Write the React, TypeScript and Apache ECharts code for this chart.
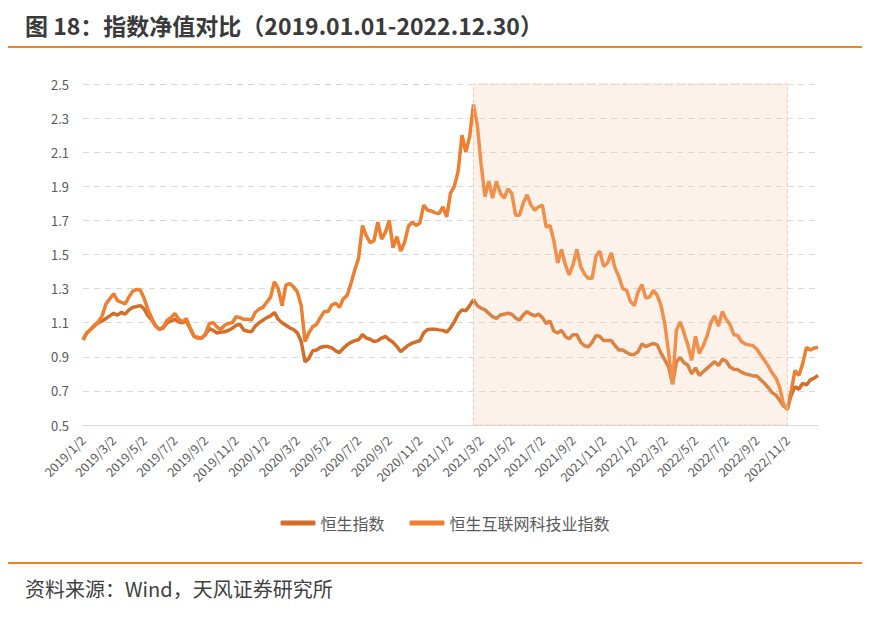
import React, { useEffect, useRef } from "react";
import * as echarts from "echarts";

// Categories: weekly samples (day 2, 9, 16, 23 of each month) + final date
const years = [2019, 2020, 2021, 2022];
const sampleDays = [2, 9, 16, 23];
const categories: string[] = [];
years.forEach((y) => {
  for (let m = 1; m <= 12; m++) {
    sampleDays.forEach((d) => categories.push(`${y}/${m}/${d}`));
  }
});
categories.push("2022/12/30");

const xTickLabels = [
  "2019/1/2", "2019/3/2", "2019/5/2", "2019/7/2", "2019/9/2", "2019/11/2",
  "2020/1/2", "2020/3/2", "2020/5/2", "2020/7/2", "2020/9/2", "2020/11/2",
  "2021/1/2", "2021/3/2", "2021/5/2", "2021/7/2", "2021/9/2", "2021/11/2",
  "2022/1/2", "2022/3/2", "2022/5/2", "2022/7/2", "2022/9/2", "2022/11/2",
];

const yTicks = [0.5, 0.7, 0.9, 1.1, 1.3, 1.5, 1.7, 1.9, 2.1, 2.3, 2.5];

const seriesNames = ["恒生指数", "恒生互联网科技业指数"];

const hsiValues = [
  1.00, 1.04, 1.06, 1.085, 1.10, 1.11, 1.125, 1.14, 1.155, 1.145,
  1.16, 1.15, 1.175, 1.19, 1.195, 1.20, 1.18, 1.14, 1.115, 1.08,
  1.06, 1.07, 1.10, 1.11, 1.12, 1.105, 1.10, 1.11, 1.065, 1.02,
  1.01, 1.01, 1.03, 1.065, 1.055, 1.04, 1.045, 1.047, 1.055, 1.067,
  1.085, 1.09, 1.057, 1.05, 1.047, 1.08, 1.10, 1.115, 1.13, 1.14,
  1.16, 1.12, 1.10, 1.085, 1.07, 1.06, 1.04, 0.99, 0.87, 0.89,
  0.935, 0.94, 0.955, 0.96, 0.96, 0.952, 0.935, 0.925, 0.95, 0.97,
  0.985, 0.995, 1.0, 1.03, 1.01, 1.003, 0.99, 0.995, 1.01, 1.02,
  1.0, 0.985, 0.96, 0.93, 0.95, 0.968, 0.98, 0.988, 0.994, 1.04,
  1.06, 1.062, 1.062, 1.058, 1.055, 1.045, 1.07, 1.105, 1.15, 1.175,
  1.17, 1.20, 1.235, 1.20, 1.185, 1.175, 1.155, 1.135, 1.125, 1.145,
  1.15, 1.155, 1.15, 1.128, 1.115, 1.145, 1.165, 1.15, 1.14, 1.15,
  1.13, 1.095, 1.11, 1.05, 1.04, 1.055, 1.02, 1.005, 1.03, 1.03,
  0.985, 0.965, 0.958, 0.985, 1.025, 1.02, 0.995, 0.995, 0.995, 0.965,
  0.94, 0.94, 0.925, 0.914, 0.914, 0.93, 0.975, 0.96, 0.97, 0.978,
  0.97, 0.92, 0.88, 0.84, 0.74, 0.87, 0.896, 0.865, 0.85, 0.80,
  0.835, 0.79, 0.812, 0.832, 0.852, 0.872, 0.848, 0.885, 0.875, 0.84,
  0.827, 0.825, 0.81, 0.80, 0.795, 0.788, 0.788, 0.765, 0.745, 0.72,
  0.69, 0.675, 0.645, 0.61, 0.60, 0.675, 0.725, 0.71, 0.745, 0.735,
  0.765, 0.775, 0.79,
];

const techValues = [
  1.00, 1.04, 1.06, 1.08, 1.106, 1.14, 1.21, 1.24, 1.27, 1.23,
  1.22, 1.21, 1.25, 1.285, 1.295, 1.29, 1.24, 1.175, 1.125, 1.08,
  1.06, 1.075, 1.115, 1.13, 1.155, 1.12, 1.105, 1.125, 1.07, 1.02,
  1.015, 1.008, 1.035, 1.095, 1.10, 1.075, 1.06, 1.085, 1.096, 1.10,
  1.135, 1.13, 1.12, 1.12, 1.116, 1.16, 1.18, 1.19, 1.22, 1.25,
  1.34, 1.30, 1.20, 1.32, 1.33, 1.31, 1.28, 1.20, 0.99, 1.04,
  1.077, 1.09, 1.13, 1.165, 1.165, 1.204, 1.215, 1.19, 1.24, 1.26,
  1.33, 1.41, 1.48, 1.67, 1.61, 1.57, 1.58, 1.69, 1.59, 1.63,
  1.70, 1.54, 1.605, 1.52, 1.57, 1.666, 1.69, 1.67, 1.685, 1.79,
  1.76, 1.755, 1.744, 1.74, 1.78, 1.72, 1.86, 1.90, 1.99, 2.20,
  2.10, 2.19, 2.38, 2.26, 2.03, 1.84, 1.93, 1.83, 1.93, 1.86,
  1.83, 1.885, 1.86, 1.73, 1.73, 1.80, 1.85, 1.79, 1.76, 1.78,
  1.79, 1.66, 1.67, 1.58, 1.45, 1.53, 1.44, 1.38, 1.44, 1.53,
  1.43, 1.385, 1.36, 1.36, 1.49, 1.52, 1.43, 1.45, 1.51, 1.42,
  1.37, 1.30, 1.29, 1.225, 1.20, 1.28, 1.324, 1.245, 1.25, 1.29,
  1.26, 1.20, 1.09, 0.92, 0.74, 1.055, 1.105, 1.04, 0.97, 0.88,
  1.02, 0.92, 0.965, 1.02, 1.10, 1.14, 1.08, 1.165, 1.12, 1.09,
  1.03, 1.025, 0.99, 0.975, 0.97, 0.965, 0.946, 0.912, 0.88, 0.845,
  0.806, 0.776, 0.72, 0.62, 0.59, 0.70, 0.82, 0.79, 0.86, 0.955,
  0.94, 0.952, 0.955,
];

const shadeRange = ["2021/2/16", "2022/11/2"];

const titleText = "图 18：指数净值对比（2019.01.01-2022.12.30）";
const sourceText = "资料来源：Wind，天风证券研究所";

const FONT = '"Noto Sans CJK SC", "Noto Sans", sans-serif';

export default function App() {
  const ref = useRef<HTMLDivElement>(null);

  useEffect(() => {
    document.body.style.margin = "0";
    if (!ref.current) return;
    const chart = echarts.init(ref.current, null, { renderer: "svg" });
    const tickSet = new Set(xTickLabels);
    chart.setOption({
      animation: false,
      backgroundColor: "#ffffff",
      textStyle: { fontFamily: FONT },
      grid: { left: 83, right: 72, top: 84, bottom: 206, containLabel: false },
      legend: {
        data: seriesNames,
        left: "center",
        top: 510,
        icon: "roundRect",
        itemWidth: 35,
        itemHeight: 5,
        itemGap: 25,
        textStyle: { fontSize: 16, color: "#595959", fontFamily: FONT },
      },
      xAxis: {
        type: "category",
        data: categories,
        boundaryGap: false,
        axisLine: { show: true, lineStyle: { color: "#d9d9d9", width: 1 } },
        axisTick: { show: false },
        axisLabel: {
          interval: (_i: number, v: string) => tickSet.has(v),
          rotate: 45,
          fontSize: 12.5,
          color: "#595959",
          margin: 13,
          fontFamily: FONT,
        },
        splitLine: { show: false },
      },
      yAxis: {
        type: "value",
        min: yTicks[0],
        max: yTicks[yTicks.length - 1],
        interval: 0.2,
        axisLine: { show: false },
        axisTick: { show: false },
        axisLabel: {
          formatter: (v: number) => v.toFixed(1),
          fontSize: 13,
          color: "#595959",
          margin: 14,
          fontFamily: FONT,
        },
        splitLine: { show: true, lineStyle: { color: "#d9d9d9", type: [6, 5], width: 1 } },
      },
      series: [
        {
          name: seriesNames[0],
          type: "line",
          data: hsiValues,
          showSymbol: false,
          symbol: "none",
          lineStyle: { color: "#D36E28", width: 3.5 },
          itemStyle: { color: "#D36E28" },
          z: 2,
        },
        {
          name: seriesNames[1],
          type: "line",
          data: techValues,
          showSymbol: false,
          symbol: "none",
          lineStyle: { color: "#EE7F31", width: 3.5 },
          itemStyle: { color: "#EE7F31" },
          z: 3,
        },
        {
          name: "shade",
          type: "line",
          data: [],
          z: 5,
          markArea: {
            silent: true,
            z: 5,
            itemStyle: {
              color: "rgba(247,200,165,0.24)",
              borderColor: "#F8CBAD",
              borderWidth: 1,
              borderType: "dashed",
            },
            data: [[{ xAxis: shadeRange[0] }, { xAxis: shadeRange[1] }]],
          },
        },
      ],
      graphic: [
        {
          type: "text",
          x: 25,
          y: 25,
          style: {
            text: titleText,
            fontSize: 23,
            fontWeight: "bold",
            fontFamily: FONT,
            fill: "#3a3a3a",
            verticalAlign: "middle",
          },
        },
        {
          type: "line",
          shape: { x1: 8, y1: 47, x2: 862, y2: 47 },
          style: { stroke: "#EE8325", lineWidth: 2 },
        },
        {
          type: "line",
          shape: { x1: 8, y1: 563, x2: 862, y2: 563 },
          style: { stroke: "#EE8325", lineWidth: 2 },
        },
        {
          type: "text",
          x: 25,
          y: 588,
          style: {
            text: sourceText,
            fontSize: 20,
            fontFamily: FONT,
            fill: "#404040",
            verticalAlign: "middle",
          },
        },
      ],
    });
    return () => chart.dispose();
  }, []);

  return <div ref={ref} style={{ width: 890, height: 631 }} />;
}
